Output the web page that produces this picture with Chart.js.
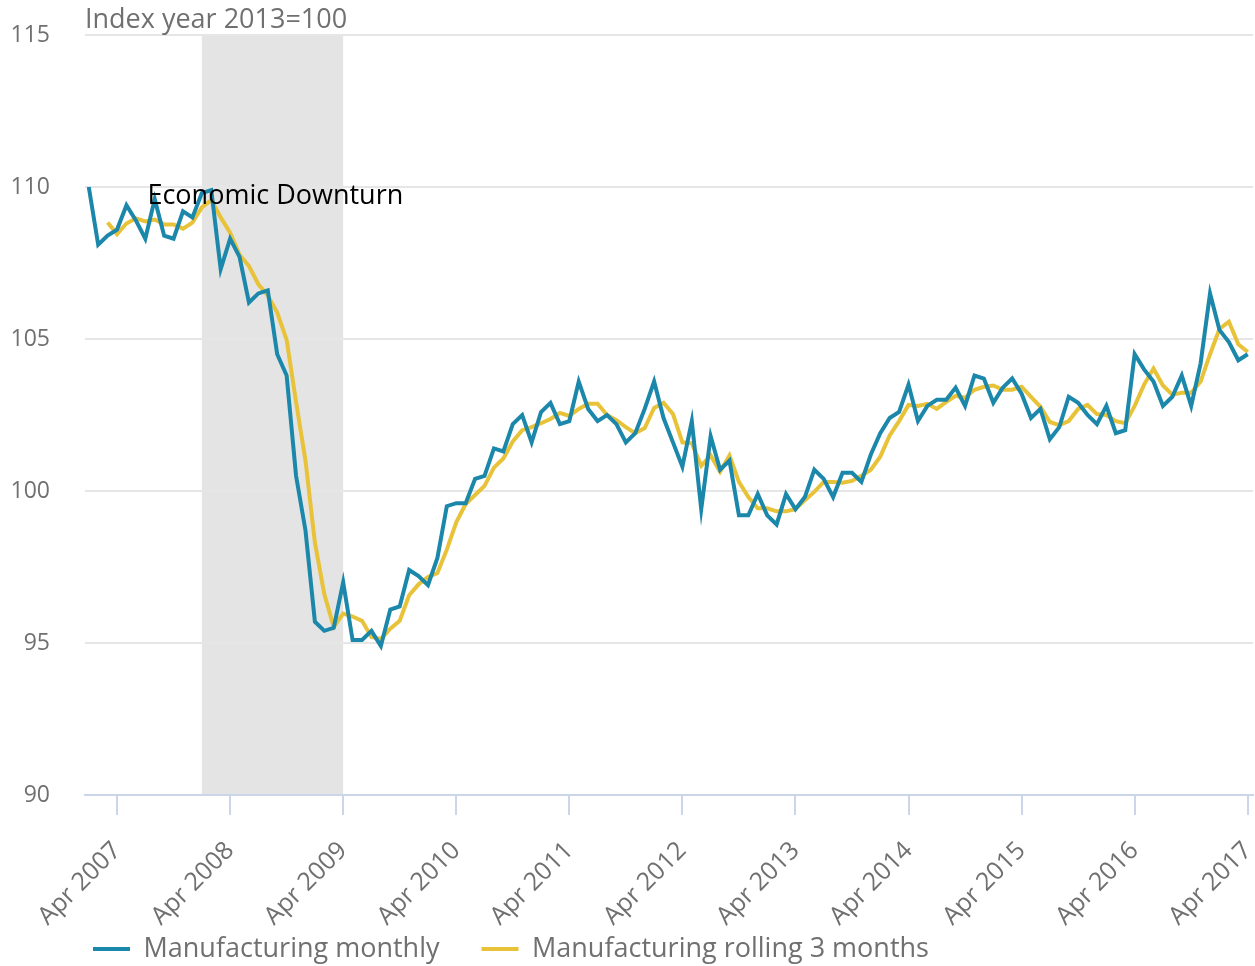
<!DOCTYPE html>
<html><head><meta charset="utf-8">
<script src="https://cdn.jsdelivr.net/npm/chart.js@4"></script>
<style>html,body{margin:0;padding:0;background:#fff}canvas{display:block}</style>
</head><body>
<canvas id="c" width="1255" height="966"></canvas>
<script>
// Months indexed from Jan 2007 (0) to Apr 2017 (123)
const startYear = 2007;
const seriesNames = ['Manufacturing monthly', 'Manufacturing rolling 3 months'];
const monthly = [
 110.0,108.1,108.4,108.6,109.4,108.9,108.3,109.6,108.4,108.3,109.2,109.0,
 109.8,109.9,107.3,108.3,107.7,106.2,106.5,106.6,104.5,103.8,100.5,98.7,
 95.7,95.4,95.5,97.0,95.1,95.1,95.4,94.9,96.1,96.2,97.4,97.2,
 96.9,97.8,99.5,99.6,99.6,100.4,100.5,101.4,101.3,102.2,102.5,101.6,
 102.6,102.9,102.2,102.3,103.6,102.7,102.3,102.5,102.2,101.6,101.9,102.7,
 103.6,102.4,101.6,100.8,102.3,99.4,101.8,100.7,101.0,99.2,99.2,99.9,
 99.2,98.9,99.9,99.4,99.8,100.7,100.4,99.8,100.6,100.6,100.3,101.2,
 101.9,102.4,102.6,103.5,102.3,102.8,103.0,103.0,103.4,102.8,103.8,103.7,
 102.9,103.4,103.7,103.2,102.4,102.7,101.7,102.1,103.1,102.9,102.5,102.2,
 102.8,101.9,102.0,104.5,104.0,103.6,102.8,103.1,103.8,102.8,104.2,106.5,
 105.3,104.9,104.3,104.5];
const rolling = [
 null,null,108.83,108.45,108.8,108.97,108.87,108.93,108.77,108.77,108.63,108.83,
 109.33,109.57,109.0,108.5,107.77,107.4,106.8,106.43,105.87,104.97,102.93,101.0,
 98.3,96.6,95.53,95.97,95.87,95.73,95.2,95.13,95.47,95.73,96.57,96.93,
 97.17,97.3,98.07,98.97,99.57,99.87,100.17,100.77,101.07,101.63,102.0,102.1,
 102.23,102.37,102.57,102.47,102.7,102.87,102.87,102.5,102.33,102.1,101.9,102.07,
 102.73,102.9,102.53,101.6,101.57,100.83,101.17,100.63,101.17,100.3,99.8,99.43,
 99.43,99.33,99.33,99.4,99.7,99.97,100.3,100.3,100.27,100.33,100.5,100.7,
 101.13,101.83,102.3,102.83,102.8,102.87,102.7,102.93,103.13,103.07,103.33,103.43,
 103.47,103.33,103.33,103.43,103.1,102.77,102.27,102.17,102.3,102.7,102.83,102.53,
 102.5,102.3,102.23,102.8,103.5,104.03,103.47,103.17,103.23,103.23,103.6,104.5,
 105.33,105.57,104.83,104.57];
const tickMonths = [3,15,27,39,51,63,75,87,99,111,123];
const tickLabels = ['Apr 2007','Apr 2008','Apr 2009','Apr 2010','Apr 2011','Apr 2012','Apr 2013','Apr 2014','Apr 2015','Apr 2016','Apr 2017'];
const yTicks = [90,95,100,105,110,115];
const shadeRange = [12, 27];           // Jan 2008 to Apr 2009
const annotationText = 'Economic Downturn';
const annotationAt = [19.8, 109.7];    // month index, index value
const unitTitle = 'Index year 2013=100';

const FONT = "'Open Sans', sans-serif";
const BLUE = '#1b87aa', YELLOW = '#e8c238', GREY = '#707070';
const LEG_PAD = 42;
const toPts = arr => arr.map((v,i) => v == null ? null : {x:i, y:v}).filter(p => p);

const custom = {
  id: 'custom',
  afterLayout(chart) {
    const lg = chart.legend;
    const h = lg.height;
    lg.left = 93 - LEG_PAD;
    lg.top = 949 - LEG_PAD - 13.5;
    lg.bottom = lg.top + h;
    chart.scales.x.bottom = chart.height;
  },
  beforeDraw(chart) {
    const {ctx, chartArea, scales:{x}} = chart;
    const x0 = x.getPixelForValue(shadeRange[0]), x1 = x.getPixelForValue(shadeRange[1]);
    ctx.save();
    ctx.fillStyle = '#e4e4e4';
    ctx.fillRect(x0, chartArea.top, x1 - x0, chartArea.bottom - chartArea.top);
    ctx.restore();
  },
  afterDatasetsDraw(chart) {
    const {ctx, scales:{x, y}} = chart;
    ctx.save();
    ctx.font = "27px " + FONT;
    ctx.fillStyle = '#000';
    ctx.textAlign = 'center';
    ctx.textBaseline = 'middle';
    ctx.fillText(annotationText, x.getPixelForValue(annotationAt[0]), y.getPixelForValue(annotationAt[1]));
    ctx.restore();
  },
  afterDraw(chart) {
    const {ctx, chartArea} = chart;
    ctx.save();
    ctx.font = "27px " + FONT;
    ctx.fillStyle = GREY;
    ctx.textAlign = 'left';
    ctx.textBaseline = 'alphabetic';
    ctx.fillText(unitTitle, chartArea.left, 28);
    ctx.restore();
  }
};

new Chart(document.getElementById('c'), {
  type: 'line',
  data: {
    datasets: [
      {label: seriesNames[0], data: toPts(monthly), borderColor: BLUE, backgroundColor: BLUE, borderWidth: 4, pointRadius: 0, tension: 0},
      {label: seriesNames[1], data: toPts(rolling), borderColor: YELLOW, backgroundColor: YELLOW, borderWidth: 4, pointRadius: 0, tension: 0}
    ]
  },
  options: {
    responsive: false,
    animation: false,
    layout: {padding: {top: 35, right: 2, left: 0, bottom: 0}},
    scales: {
      x: {
        type: 'linear', min: -0.4, max: 123.56,
        afterBuildTicks: s => { s.ticks = tickMonths.map(v => ({value: v})); },
        ticks: {autoSkip: false, minRotation: 45, maxRotation: 45, color: GREY, padding: 21,
                font: {family: FONT, size: 25},
                callback: (v, i) => tickLabels[i]},
        grid: {drawOnChartArea: false, drawTicks: true, tickLength: 20, color: '#ccd6eb', lineWidth: 2},
        border: {color: '#ccd6eb', width: 2},
        afterFit: s => { s.height = 92; s.paddingLeft = 0; s.paddingRight = 0; }
      },
      y: {
        min: 90, max: 115,
        afterBuildTicks: s => { s.ticks = yTicks.map(v => ({value: v})); },
        ticks: {color: GREY, padding: 35, font: {family: FONT, size: 23}},
        grid: {color: '#e6e6e6', lineWidth: 2, drawTicks: false},
        border: {display: false},
        afterFit: s => { s.width = 85; s.paddingTop = 0; s.paddingBottom = 0; }
      }
    },
    plugins: {
      legend: {
        position: 'bottom', align: 'start',
        labels: {
          boxWidth: 37, boxHeight: 4, padding: LEG_PAD, color: GREY,
          font: {family: FONT, size: 27},
          generateLabels: chart => Chart.defaults.plugins.legend.labels.generateLabels(chart).map(it => Object.assign(it, {lineWidth: 0}))
        }
      },
      tooltip: {enabled: false}
    }
  },
  plugins: [custom]
});
</script>
</body></html>
